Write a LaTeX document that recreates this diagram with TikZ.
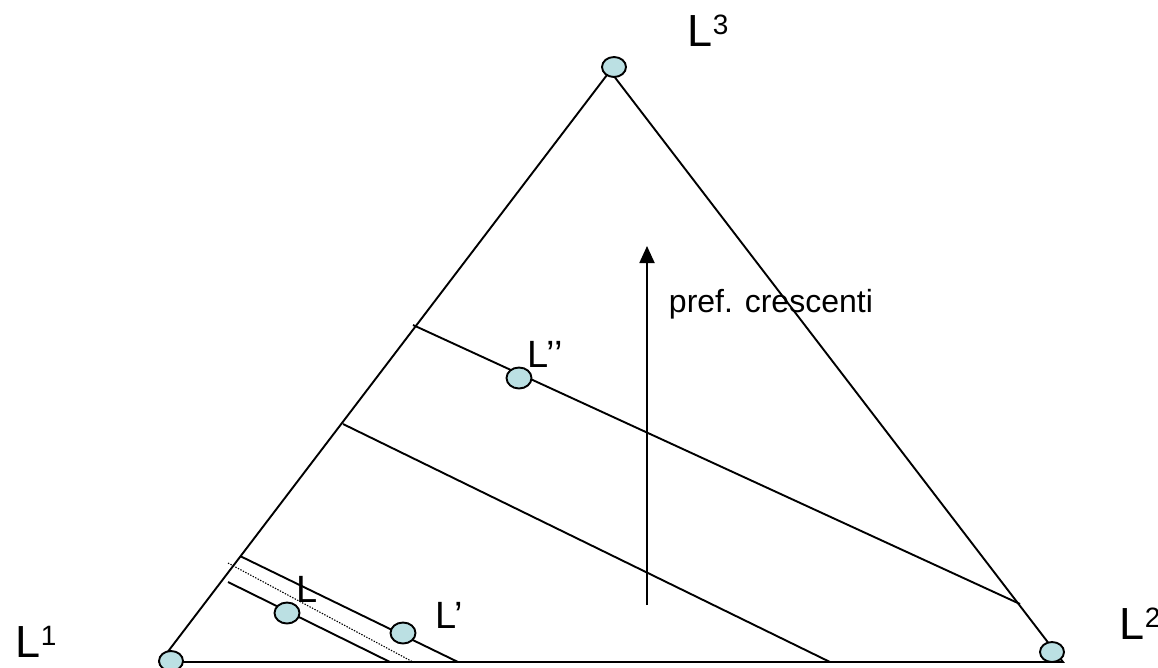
\documentclass[tikz,border=0pt]{standalone}
\usepackage{fontspec}
\setmainfont{Liberation Sans}
\usetikzlibrary{arrows.meta,shapes.geometric}

\definecolor{ptfill}{RGB}{187,224,227}

\begin{document}
\begin{tikzpicture}[x=1pt, y=-1pt, >={Triangle[length=17pt,width=15pt]},
    line width=1.9pt,
    pt/.style={ellipse, draw, fill=ptfill, line width=1.9pt, minimum width=25pt, minimum height=21pt, inner sep=0pt},
    biglbl/.style={anchor=base west, inner sep=0pt, font=\fontsize{45}{50}\selectfont},
    lbl/.style={anchor=base west, inner sep=0pt, font=\fontsize{38}{42}\selectfont}]
    \useasboundingbox (0,0) rectangle (1158,667);

    % triangle corners
    \coordinate (a) at (160,662);
    \coordinate (b) at (1063,662);
    \coordinate (c) at (610,71);
    \draw (a) -- (b) -- (c) -- cycle;

    % indifference lines
    \coordinate (u1) at (413,325);
    \coordinate (u2) at (1020,604);
    \coordinate (m1) at (343,424);
    \coordinate (m2) at (830,662);
    \coordinate (s1) at (240,556);
    \coordinate (s2) at (458,662);
    \coordinate (d1) at (228,563);
    \coordinate (d2) at (413,662);
    \coordinate (t1) at (228,582);
    \coordinate (t2) at (390,662);
    \draw (u1) -- (u2);
    \draw (m1) -- (m2);
    \draw (s1) -- (s2);
    \draw[line width=1.1pt, dash pattern=on 1.4pt off 1.4pt] (d1) -- (d2);
    \draw (t1) -- (t2);

    % preference arrow
    \coordinate (p0) at (647,605);
    \coordinate (p1) at (647,246);
    \draw[->] (p0) -- (p1);
    \node[anchor=base west, inner sep=0pt, font=\fontsize{32}{36}\selectfont] (pref) at (668,312) {pref. crescenti};

    % points
    \node[pt, minimum width=24pt, minimum height=20pt] (v1) at (171,661) {};
    \node[pt, minimum width=24pt, minimum height=20pt] (v2) at (1052,652) {};
    \node[pt, minimum width=24pt, minimum height=20pt] (v3) at (614,67) {};
    \node[pt] (l0) at (287,613) {};
    \node[pt] (l1) at (403,633) {};
    \node[pt] (l2) at (519,378) {};

    % labels
    \node[biglbl] (n1) at (15,657) {L\raisebox{12pt}{\fontsize{28}{30}\selectfont 1}};
    \node[biglbl] (n2) at (1119,639) {L\raisebox{12pt}{\fontsize{28}{30}\selectfont 2}};
    \node[biglbl] (n3) at (687,46) {L\raisebox{12pt}{\fontsize{28}{30}\selectfont 3}};
    \node[lbl] (k0) at (296,602) {L};
    \node[lbl] (k1) at (435,628) {L’};
    \node[lbl] (k2) at (527,367) {L’’};
\end{tikzpicture}
\end{document}
